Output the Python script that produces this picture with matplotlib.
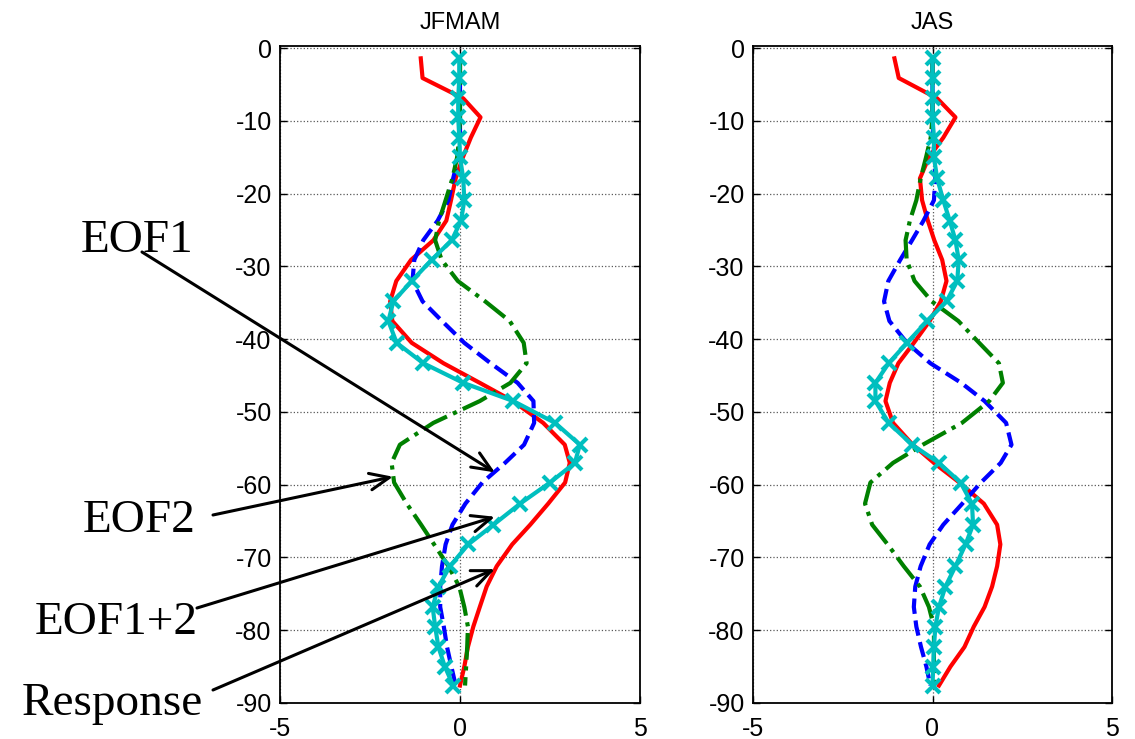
import matplotlib.pyplot as plt

# model levels shared by all profiles
levels = [-1.4, -4.1, -6.9, -9.5, -12.3, -15.0, -17.9, -20.9, -23.7, -26.4, -29.1,
          -32.0, -34.8, -37.5, -40.5, -43.3, -46.0, -48.5, -51.5, -54.5, -57.0,
          -59.7, -62.6, -65.5, -68.2, -71.2, -74.0, -76.8, -79.5, -82.3, -85.0, -87.6]

# JFMAM profiles
resp_jfmam = [-1.09, -1.04, 0.09, 0.57, 0.30, 0.08, -0.12, -0.25, -0.38, -0.74, -1.36,
              -1.77, -1.94, -1.88, -1.34, -0.46, 0.55, 1.47, 2.31, 2.91, 3.05,
              2.92, 2.45, 1.95, 1.45, 1.02, 0.74, 0.55, 0.37, 0.22, 0.12, 0.0]
eof1_jfmam = [0.0, 0.0, 0.0, 0.0, 0.0, -0.05, -0.19, -0.32, -0.62, -1.02, -1.27,
              -1.32, -1.04, -0.50, 0.12, 0.85, 1.60, 2.04, 2.06, 1.78, 1.25,
              0.62, 0.15, -0.21, -0.40, -0.50, -0.55, -0.55, -0.45, -0.36, -0.24, -0.12]
eof2_jfmam = [0.0, 0.0, 0.0, 0.0, -0.02, -0.08, -0.21, -0.40, -0.58, -0.69, -0.51,
              -0.06, 0.70, 1.38, 1.77, 1.85, 1.40, 0.55, -0.74, -1.67, -1.90,
              -1.83, -1.48, -1.08, -0.72, -0.32, -0.02, 0.12, 0.22, 0.20, 0.17, 0.14]
sum_jfmam = [-0.02, -0.02, -0.05, -0.05, -0.02, 0.0, 0.09, 0.12, 0.03, -0.23, -0.79,
             -1.34, -1.85, -1.99, -1.76, -1.02, 0.09, 1.48, 2.64, 3.33, 3.19,
             2.50, 1.67, 0.93, 0.23, -0.28, -0.60, -0.76, -0.69, -0.60, -0.42, -0.19]

# JAS profiles
resp_jas = [-1.06, -0.94, 0.13, 0.64, 0.30, -0.10, -0.35, -0.29, -0.13, 0.05, 0.27,
            0.39, 0.23, -0.08, -0.52, -0.95, -1.19, -1.31, -1.10, -0.55, 0.04,
            0.75, 1.43, 1.80, 1.89, 1.80, 1.66, 1.45, 1.15, 0.89, 0.50, 0.18]
eof1_jas = [0.0, 0.0, 0.0, 0.0, 0.02, 0.05, 0.08, 0.04, -0.25, -0.57, -0.90,
            -1.23, -1.35, -1.20, -0.71, -0.06, 0.80, 1.45, 2.05, 2.20, 1.90,
            1.35, 0.83, 0.30, -0.08, -0.33, -0.48, -0.52, -0.45, -0.32, -0.17, -0.06]
eof2_jas = [0.0, 0.0, 0.0, 0.0, -0.05, -0.18, -0.33, -0.45, -0.63, -0.75, -0.72,
            -0.50, -0.02, 0.72, 1.30, 1.85, 1.96, 1.58, 0.82, -0.27, -1.10,
            -1.73, -1.88, -1.68, -1.25, -0.80, -0.35, -0.10, 0.04, 0.04, 0.04, 0.04]
sum_jas = [0.0, 0.0, 0.0, 0.0, 0.04, 0.04, 0.13, 0.30, 0.48, 0.64, 0.73,
           0.69, 0.39, -0.15, -0.71, -1.22, -1.59, -1.59, -1.22, -0.57, 0.18,
           0.78, 1.10, 1.13, 0.92, 0.64, 0.36, 0.18, 0.08, 0.04, 0.02, 0.0]

titles = ['JFMAM', 'JAS']
yticks = [0, -10, -20, -30, -40, -50, -60, -70, -80, -90]
xticks = [-5, 0, 5]

W, H = 1135, 739
fig = plt.figure(figsize=(W / 100, H / 100), dpi=100)
ax1 = fig.add_axes([280 / W, 1 - 703 / H, 360 / W, 657 / H])
ax2 = fig.add_axes([753 / W, 1 - 703 / H, 359 / W, 657 / H])

panels = [(ax1, resp_jfmam, eof1_jfmam, eof2_jfmam, sum_jfmam),
          (ax2, resp_jas, eof1_jas, eof2_jas, sum_jas)]

for (ax, resp, e1, e2, tot), title in zip(panels, titles):
    ax.plot(resp, levels, color='red', lw=3, zorder=3)
    ax.plot(e1, levels, color='blue', lw=3, ls='--', zorder=3)
    ax.plot(e2, levels, color=(0, 0.5, 0), lw=3, ls='-.', zorder=3)
    ax.plot(tot, levels, color=(0, 0.75, 0.75), lw=3, marker='x',
            markersize=10, markeredgewidth=3, zorder=4)
    ax.set_xlim(-5, 5)
    ax.set_ylim(-90, 0.3)
    ax.set_xticks(xticks)
    ax.set_yticks(yticks)
    ax.set_xticklabels([str(t) for t in xticks])
    ax.set_yticklabels([str(t) for t in yticks])
    ax.grid(True, color='0.35', ls=':', lw=0.9)
    ax.tick_params(direction='in', top=True, right=True, length=5, width=1,
                   labelsize=18, pad=6)
    ax.tick_params(axis='x', pad=10)
    for s in ax.spines.values():
        s.set_linewidth(1.3)
    ax.set_title(title, fontsize=17, pad=12, family='Liberation Sans')
    for lab in ax.get_xticklabels() + ax.get_yticklabels():
        lab.set_family('Liberation Sans')

# labelled arrows pointing into the JFMAM panel
labels = ['EOF1', 'EOF2', 'EOF1+2', 'Response']
label_pos = [(137, 252), (139, 532), (116, 634), (112, 715)]
arrow_start = [(142, 252), (213, 515), (197, 608), (213, 690)]
arrow_tip = [(0.97, -58.3), (-1.86, -58.9), (0.97, -64.4), (0.97, -71.6)]

for lab, (tx, ty), (sx, sy), tip in zip(labels, label_pos, arrow_start, arrow_tip):
    fig.text(tx / W, 1 - ty / H, lab, ha='center', va='baseline',
             fontsize=34, family='Liberation Serif')
    ax1.annotate('', xy=tip, xycoords='data',
                 xytext=(sx / W, 1 - sy / H), textcoords='figure fraction',
                 arrowprops=dict(arrowstyle='->, head_length=0.7, head_width=0.3',
                                 lw=2.2, color='black', shrinkA=0, shrinkB=0,
                                 mutation_scale=20),
                 annotation_clip=False, zorder=10)

fig.savefig('out.png', dpi=100)
